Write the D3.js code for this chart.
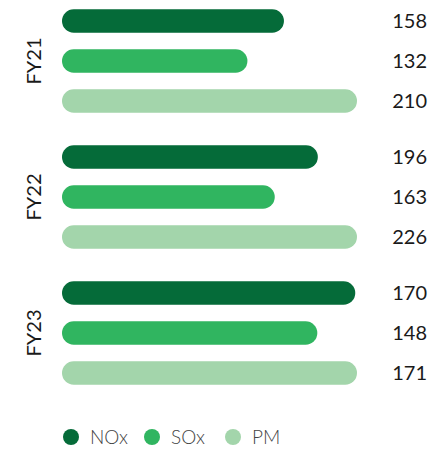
<!DOCTYPE html>
<html>
<head>
<meta charset="utf-8">
<script src="https://cdn.jsdelivr.net/npm/d3@7"></script>
<style>
  body { margin: 0; background: #fff; }
  text { font-family: Lato, "Open Sans", sans-serif; }
</style>
</head>
<body>
<div id="chart"></div>
<script>
// emissions per year, one array per pollutant
var years = ['FY21', 'FY22', 'FY23'];
var series = ['NOx', 'SOx', 'PM'];
var nox = [158, 196, 170];
var sox = [132, 163, 148];
var pm = [210, 226, 171];

var width = 433, height = 450;
var svg = d3.select('#chart').append('svg')
  .attr('width', width)
  .attr('height', height);

var colors = d3.scaleOrdinal()
  .domain(series)
  .range(['#056b39', '#30b560', '#a3d5ab']);

var rows = years.map(function(y, i) {
  return { year: y, values: [
    { key: 'NOx', value: nox[i] },
    { key: 'SOx', value: sox[i] },
    { key: 'PM', value: pm[i] }
  ]};
});

var y0 = d3.scaleBand()
  .domain(years)
  .range([1, 393])
  .paddingInner(16 / 136);

var y1 = d3.scaleBand()
  .domain(series)
  .range([0, y0.bandwidth()])
  .paddingInner(0.4125)
  .paddingOuter(0.4125 / 2);

var groups = svg.selectAll('g.group')
  .data(rows)
  .enter()
  .append('g')
  .attr('class', 'group')
  .attr('transform', (d) => 'translate(0,' + y0(d.year) + ')');

groups.each(function(d) {
  // each year is scaled to its own max
  var x = d3.scaleLinear()
    .domain([0, d3.max(d.values, (v) => v.value)])
    .range([62, 357]);
  var g = d3.select(this);

  g.selectAll('rect')
    .data(d.values)
    .enter()
    .append('rect')
    .attr('x', x(0))
    .attr('y', (v) => y1(v.key))
    .attr('width', (v) => x(v.value) - x(0))
    .attr('height', y1.bandwidth())
    .attr('rx', y1.bandwidth() / 2)
    .attr('fill', (v) => colors(v.key));

  g.selectAll('text.val')
    .data(d.values)
    .enter()
    .append('text')
    .attr('class', 'val')
    .attr('x', 427)
    .attr('y', (v) => y1(v.key) + y1.bandwidth() / 2)
    .attr('dy', '0.36em')
    .attr('text-anchor', 'end')
    .attr('font-size', 20)
    .attr('fill', '#1a1a1a')
    .text((v) => v.value);

  g.append('text')
    .attr('transform', 'translate(41,' + (y0.bandwidth() / 2) + ') rotate(-90)')
    .attr('text-anchor', 'middle')
    .attr('font-size', 20)
    .attr('fill', '#1a1a1a')
    .text(d.year);
});

// legend
var legendX = d3.scalePoint()
  .domain(series)
  .range([71, 233]);

var legend = svg.append('g')
  .selectAll('g')
  .data(series)
  .enter()
  .append('g');

legend.append('circle')
  .attr('cx', (d) => legendX(d))
  .attr('cy', 437)
  .attr('r', 8)
  .attr('fill', (d) => colors(d));

legend.append('text')
  .attr('x', (d) => legendX(d) + 19)
  .attr('y', 437)
  .attr('dy', '0.36em')
  .attr('font-size', 19)
  .attr('font-weight', 300)
  .attr('fill', '#444')
  .text((d) => d);
</script>
</body>
</html>
